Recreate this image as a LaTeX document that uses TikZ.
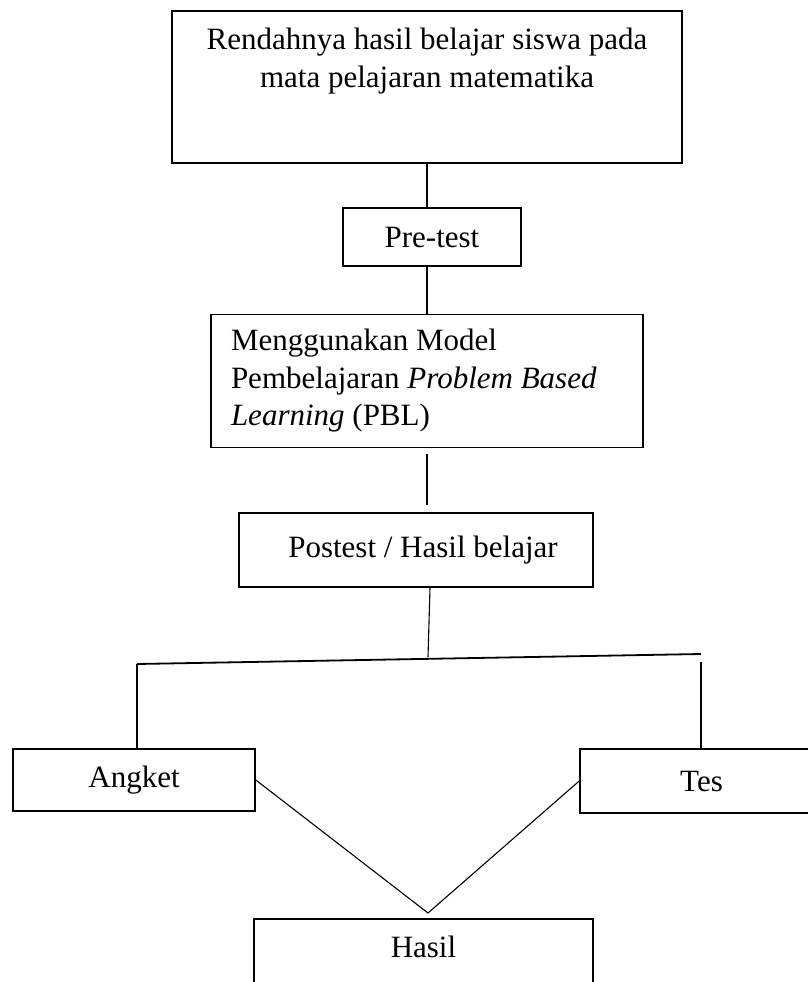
\documentclass[tikz,border=0pt]{standalone}
\usepackage{fontspec}
\setmainfont{Liberation Serif}
\usepackage{tikz}

\tikzset{
	kotak/.style={draw, line width=1.6pt, rectangle, inner sep=0pt},
	garis/.style={line width=1.1pt},
	cabangan/.style={line width=1.8pt},
	every node/.style={font=\fontsize{31pt}{37.5pt}\selectfont}
}

\begin{document}
\begin{tikzpicture}[x=1pt, y=-1pt]
	\clip (0,0) rectangle (808,982);
	% kotak-kotak
	\node[kotak, minimum width=510pt, minimum height=152pt] (masalah) at (427,87) {};
	\node[anchor=north, align=center, inner sep=0pt] (masalahteks) at ([yshift=-18pt]masalah.north) {Rendahnya hasil belajar siswa pada\\mata pelajaran matematika};
	\node[kotak, minimum width=178pt, minimum height=58pt] (pretest) at (432,237) {Pre-test};
	\node[kotak, minimum width=432pt, minimum height=133pt, inner xsep=20pt, text width=392pt, align=flush left] (pbl) at (427,381) {Menggunakan Model\\Pembelajaran \textit{Problem Based}\\\textit{Learning} (PBL)};
	\node[kotak, minimum width=354pt, minimum height=74pt] (postest) at (416,550) {\hspace{14pt}Postest / Hasil belajar};
	\node[kotak, minimum width=242pt, minimum height=62pt] (angket) at (134,780) {\raisebox{-3pt}{Angket}};
	\node[kotak, minimum width=235pt, minimum height=64pt] (tes) at (697.5,781) {\hspace{8pt}Tes};
	\node[kotak, anchor=north, minimum width=339pt, text height=39pt, text depth=40pt] (hasil) at (423.5,918) {Hasil};
	% garis penghubung
	\coordinate (cabang) at (428,657);
	\coordinate (kiri) at (137,664);
	\coordinate (kanan) at (701,654);
	\coordinate (temu) at (428,913);
	\draw[garis] (masalah.south) -- (masalah.south |- pretest.north);
	\draw[garis] (pbl.north |- pretest.south) -- (pbl.north);
	\draw[garis] ([yshift=-6pt]pbl.south) -- ([yshift=7pt]pbl.south |- postest.north);
	\draw[garis] ([xshift=14pt]postest.south) -- (cabang);
	\draw[cabangan] (kiri) -- (kanan);
	\draw[cabangan] (kiri) -- (kiri |- angket.north);
	\draw[cabangan] ([yshift=-8pt]kanan) -- (kanan |- tes.north);
	\draw[garis] (angket.east) -- (temu) -- (tes.west);
\end{tikzpicture}
\end{document}
